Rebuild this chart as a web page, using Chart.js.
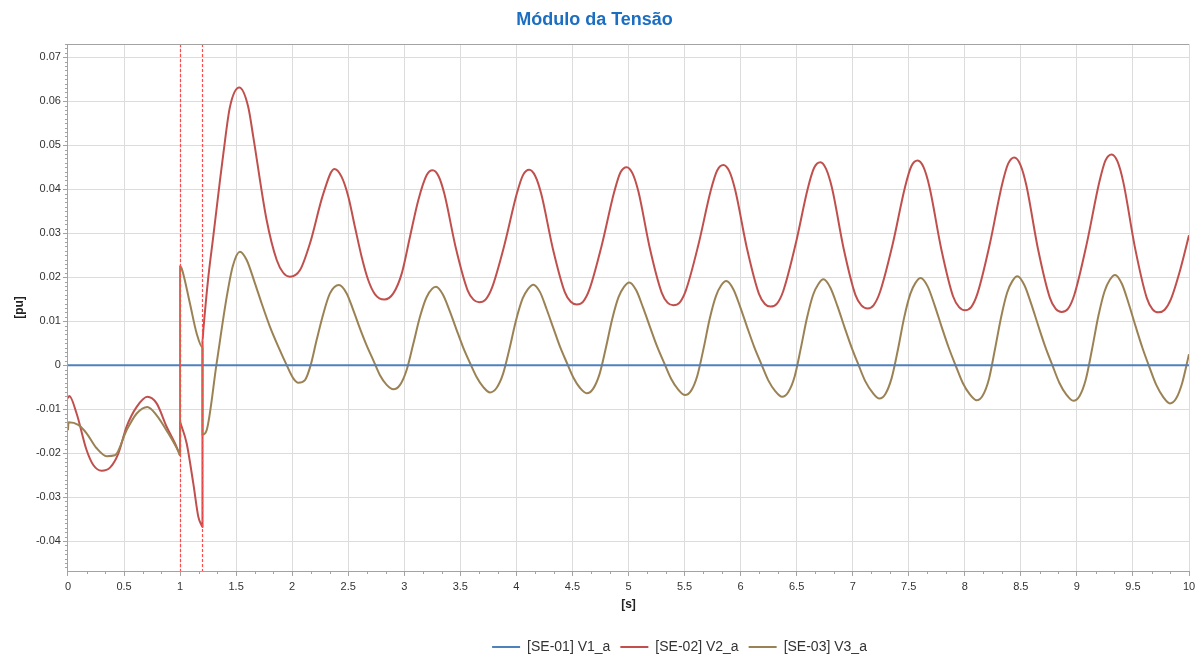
<!DOCTYPE html>
<html>
<head>
<meta charset="utf-8">
<script src="https://cdn.jsdelivr.net/npm/chart.js@4/dist/chart.umd.min.js"></script>
<style>
html,body{margin:0;padding:0;background:#fff;}
#wrap{width:1202px;height:658px;}
</style>
</head>
<body>
<div id="wrap"><canvas id="c" width="1202" height="658"></canvas></div>
<script>
// ---------- DATA ----------
const chartTitle = 'Módulo da Tensão';
const xTitle = '[s]';
const yTitle = '[pu]';
const seriesNames = ['[SE-01] V1_a', '[SE-02] V2_a', '[SE-03] V3_a'];
const faultTimes = [1.0, 1.2];

// [time (s), value (pu)]
const v1Series = [[0, 0], [10, 0]];

const v2Series = [
  [0,-0.0075],[0.012,-0.0070],[0.077,-0.0110],[0.166,-0.0193],[0.226,-0.0227],[0.30,-0.0240],[0.375,-0.0233],
  [0.449,-0.0201],[0.523,-0.0140],[0.613,-0.0095],[0.708,-0.0072],[0.791,-0.0087],[0.880,-0.0140],[0.955,-0.0178],[0.99,-0.0199],[1.0,-0.0205],
  [1.0,-0.0129],[1.008,-0.0135],[1.059,-0.0178],[1.118,-0.0269],[1.163,-0.0345],[1.192,-0.0364],[1.2,-0.0368],
  [1.2,0.0055],[1.207,0.0078],[1.252,0.0200],[1.296,0.0292],[1.356,0.0420],[1.386,0.0481],[1.445,0.0587],[1.528,0.0631],
  [1.608,0.0587],[1.653,0.0519],[1.772,0.0330],[1.862,0.0239],[1.92,0.0210],[1.98,0.0201],[2.07,0.0216],
  [2.159,0.0277],[2.278,0.0390],[2.376,0.0446],
  [2.441,0.0428],[2.501,0.0383],[2.560,0.0314],[2.620,0.0246],[2.679,0.0193],[2.739,0.0161],[2.822,0.0149],
  [2.902,0.0163],[2.977,0.0208],[3.051,0.0292],[3.125,0.0375],[3.2,0.0432],[3.253,0.0443],
  [3.305,0.0430],[3.357,0.0390],[3.461,0.0265],[3.565,0.0170],[3.617,0.0149],[3.669,0.0143],
  [3.725,0.0149],[3.781,0.0175],[3.892,0.0272],[4.004,0.0390],[4.059,0.0432],[4.115,0.0444],
  [4.168,0.0430],[4.221,0.0390],[4.327,0.0263],[4.432,0.0166],[4.485,0.0144],[4.538,0.0138],
  [4.594,0.0144],[4.650,0.0171],[4.761,0.0272],[4.873,0.0394],[4.928,0.0438],[4.984,0.0450],
  [5.036,0.0436],[5.088,0.0395],[5.192,0.0264],[5.296,0.0165],[5.348,0.0142],[5.400,0.0136],
  [5.456,0.0142],[5.512,0.0170],[5.623,0.0273],[5.735,0.0398],[5.790,0.0442],[5.846,0.0455],
  [5.899,0.0441],[5.952,0.0398],[6.058,0.0264],[6.164,0.0162],[6.217,0.0139],[6.267,0.0133],
  [6.325,0.0140],[6.38,0.0168],[6.49,0.0274],[6.60,0.0402],[6.655,0.0448],[6.712,0.0461],
  [6.7625,0.0446],[6.815,0.0403],[6.92,0.0264],[7.025,0.0159],[7.0775,0.0136],[7.134,0.0129],
  [7.186,0.0136],[7.242,0.0165],[7.355,0.0273],[7.467,0.0405],[7.523,0.0452],[7.579,0.0465],
  [7.632,0.0450],[7.685,0.0405],[7.791,0.0263],[7.896,0.0156],[7.949,0.0132],[8.002,0.0125],
  [8.057,0.0132],[8.112,0.0162],[8.222,0.0274],[8.332,0.0410],[8.387,0.0458],[8.442,0.0472],
  [8.495,0.0456],[8.548,0.0410],[8.653,0.0264],[8.759,0.0153],[8.811,0.0128],[8.864,0.0121],
  [8.92,0.0128],[8.976,0.0159],[9.087,0.0275],[9.199,0.0415],[9.254,0.0465],[9.310,0.0479],
  [9.362,0.0463],[9.414,0.0416],[9.519,0.0266],[9.623,0.0153],[9.675,0.0127],[9.727,0.0120],
  [9.783,0.0126],[9.839,0.0150],[9.92,0.0215],[10.0,0.0295]
];

const v3Series = [
  [0,-0.0148],[0.005,-0.0130],[0.092,-0.0136],[0.166,-0.0155],[0.256,-0.0189],[0.345,-0.0207],[0.419,-0.0205],
  [0.523,-0.0148],[0.613,-0.0110],[0.708,-0.0095],[0.791,-0.0114],[0.895,-0.0155],[0.985,-0.0196],[1.0,-0.0205],
  [1.0,0.0225],[1.014,0.0220],[1.088,0.0140],[1.148,0.0072],[1.2,0.0040],
  [1.2,-0.0158],[1.237,-0.0148],[1.326,0.0004],[1.416,0.0155],[1.47,0.0225],[1.534,0.0258],
  [1.594,0.0239],[1.668,0.0186],[1.728,0.0140],[1.802,0.0087],[1.876,0.0042],[1.951,0.0],[2.010,-0.0030],
  [2.055,-0.0040],[2.114,-0.0034],[2.165,0.0],[2.218,0.0057],[2.278,0.0117],[2.337,0.0163],[2.417,0.0182],
  [2.486,0.0163],[2.545,0.0125],[2.605,0.0083],[2.664,0.0045],[2.724,0.0011],[2.783,-0.0023],[2.843,-0.0045],
  [2.902,-0.0055],[2.962,-0.0045],[3.021,-0.0011],[3.081,0.0049],[3.140,0.0110],[3.2,0.0155],[3.283,0.0178],
  [3.343,0.0161],[3.404,0.0124],[3.464,0.0082],[3.524,0.0041],[3.584,0.0006],[3.645,-0.0027],[3.705,-0.0050],[3.765,-0.0062],
  [3.823,-0.0052],[3.881,-0.0020],[3.939,0.0038],[3.997,0.0102],[4.055,0.0151],[4.103,0.0173],[4.151,0.0183],
  [4.211,0.0166],[4.270,0.0127],[4.330,0.0084],[4.389,0.0042],[4.449,0.0006],[4.508,-0.0028],[4.568,-0.0052],[4.627,-0.0064],
  [4.684,-0.0054],[4.741,-0.0021],[4.798,0.0039],[4.855,0.0105],[4.912,0.0155],[4.960,0.0178],[5.007,0.0188],
  [5.069,0.0170],[5.131,0.0130],[5.193,0.0086],[5.256,0.0042],[5.318,0.0005],[5.380,-0.0031],[5.442,-0.0055],[5.504,-0.0068],
  [5.559,-0.0058],[5.614,-0.0024],[5.670,0.0038],[5.725,0.0106],[5.780,0.0157],[5.826,0.0181],[5.872,0.0191],
  [5.934,0.0173],[5.997,0.0132],[6.059,0.0086],[6.122,0.0041],[6.184,0.0003],[6.246,-0.0034],[6.309,-0.0059],[6.371,-0.0072],
  [6.426,-0.0061],[6.481,-0.0027],[6.537,0.0038],[6.592,0.0107],[6.647,0.0160],[6.693,0.0184],[6.739,0.0195],
  [6.801,0.0176],[6.864,0.0134],[6.926,0.0087],[6.989,0.0041],[7.051,0.0001],[7.113,-0.0037],[7.176,-0.0062],[7.238,-0.0076],
  [7.293,-0.0065],[7.348,-0.0029],[7.404,0.0036],[7.459,0.0108],[7.514,0.0162],[7.560,0.0187],[7.606,0.0198],
  [7.6685,0.0179],[7.731,0.0136],[7.7935,0.0087],[7.856,0.0040],[7.9185,-0.0001],[7.981,-0.0040],[8.0435,-0.0066],[8.106,-0.0080],
  [8.160,-0.0069],[8.215,-0.0032],[8.269,0.0036],[8.324,0.0109],[8.378,0.0165],[8.424,0.0191],[8.469,0.0202],
  [8.531,0.0182],[8.594,0.0138],[8.656,0.0089],[8.719,0.0041],[8.781,0.0000],[8.843,-0.0040],[8.906,-0.0067],[8.968,-0.0081],
  [9.024,-0.0070],[9.080,-0.0032],[9.135,0.0036],[9.191,0.0111],[9.247,0.0168],[9.294,0.0194],[9.340,0.0205],
  [9.401,0.0185],[9.463,0.0139],[9.524,0.0088],[9.585,0.0039],[9.646,-0.0004],[9.708,-0.0045],[9.769,-0.0072],[9.830,-0.0087],
  [9.885,-0.0076],[9.94,-0.0040],[10.0,0.0025]
];

// ---------- STYLE ----------
const FONT = '"Liberation Sans", Arial, sans-serif';
const AXIS_COLOR = '#a3a3a3';
const GRID_COLOR = '#dcdcdc';
const colors = ['#4f81bd', '#c0504d', '#9b8254'];

Chart.defaults.font.family = FONT;

const toPoints = s => s.map(p => ({x: p[0], y: p[1]}));
const fmt = v => String(Number(v.toFixed(4)));

const decorations = {
  id: 'decorations',
  afterLayout(chart) {
    const lg = chart.legend;
    if (lg && !lg._shifted) {
      lg.left += 85; lg.right += 85; lg.top += 6; lg.bottom += 6; lg._shifted = true;
    }
  },
  afterDatasetsDraw(chart) {
    const {ctx, chartArea: a, scales: {x}} = chart;
    ctx.save();
    ctx.strokeStyle = '#ff4b4b';
    ctx.lineWidth = 1.2;
    ctx.setLineDash([3, 2]);
    faultTimes.forEach(t => {
      const px = Math.round(x.getPixelForValue(t)) + 0.5;
      ctx.beginPath(); ctx.moveTo(px, a.top); ctx.lineTo(px, a.bottom); ctx.stroke();
    });
    ctx.restore();
  },
  afterDraw(chart) {
    const {ctx, chartArea: a, scales: {x, y}} = chart;
    ctx.save();
    ctx.strokeStyle = AXIS_COLOR;
    ctx.lineWidth = 1;
    ctx.beginPath();
    const ty = Math.round(a.top) + 0.5;
    ctx.moveTo(a.left, ty); ctx.lineTo(a.right, ty);
    const xMinor = 0.5 / 3;
    for (let i = 0; ; i++) {
      const v = x.min + i * xMinor;
      if (v > x.max + 1e-9) break;
      if (i % 3 === 0) continue;
      const px = Math.round(x.getPixelForValue(v)) + 0.5;
      ctx.moveTo(px, a.bottom); ctx.lineTo(px, a.bottom + 3);
    }
    for (let k = Math.ceil(y.min * 1000); k <= Math.floor(y.max * 1000); k++) {
      if (k % 10 === 0) continue;
      const py = Math.round(y.getPixelForValue(k / 1000)) + 0.5;
      ctx.moveTo(a.left - 3, py); ctx.lineTo(a.left, py);
    }
    ctx.stroke();
    ctx.restore();
  }
};

new Chart(document.getElementById('c'), {
  type: 'line',
  data: {
    datasets: [
      {label: seriesNames[0], data: toPoints(v1Series), borderColor: colors[0], backgroundColor: colors[0], order: 0},
      {label: seriesNames[1], data: toPoints(v2Series), borderColor: colors[1], backgroundColor: colors[1], order: 2},
      {label: seriesNames[2], data: toPoints(v3Series), borderColor: colors[2], backgroundColor: colors[2], order: 1}
    ].map(d => Object.assign(d, {
      borderWidth: 2, pointRadius: 0, pointHoverRadius: 0, fill: false,
      cubicInterpolationMode: 'monotone', borderJoinStyle: 'round'
    }))
  },
  options: {
    responsive: false,
    animation: false,
    events: [],
    layout: {padding: {left: 0, right: 13, top: 0, bottom: 0}},
    plugins: {
      title: {
        display: true, text: chartTitle, color: '#1b6ec2',
        font: {family: FONT, size: 18, weight: 'bold'},
        padding: {top: 9, bottom: 13.4}
      },
      legend: {
        position: 'bottom',
        labels: {
          usePointStyle: true, pointStyle: 'line', pointStyleWidth: 28,
          color: '#333', font: {family: FONT, size: 14}, padding: 10,
          sort: (a, b) => a.datasetIndex - b.datasetIndex
        }
      },
      tooltip: {enabled: false}
    },
    scales: {
      x: {
        type: 'linear', min: 0, max: 10,
        ticks: {stepSize: 0.5, color: '#333', font: {family: FONT, size: 11}, padding: 4,
                maxRotation: 0, autoSkip: false, includeBounds: false, callback: v => fmt(v)},
        grid: {color: GRID_COLOR, tickColor: AXIS_COLOR, tickLength: 5, lineWidth: 1},
        border: {color: AXIS_COLOR, width: 1},
        title: {display: true, text: xTitle, color: '#222', font: {family: FONT, size: 12, weight: 'bold'},
                padding: {top: 0, bottom: 12.4}}
      },
      y: {
        type: 'linear', min: -0.0468, max: 0.073,
        ticks: {stepSize: 0.01, color: '#333', font: {family: FONT, size: 11}, padding: 2,
                autoSkip: false, includeBounds: false, callback: v => fmt(v)},
        grid: {color: GRID_COLOR, tickColor: AXIS_COLOR, tickLength: 5, lineWidth: 1},
        border: {color: AXIS_COLOR, width: 1},
        title: {display: true, text: yTitle, color: '#222', font: {family: FONT, size: 12, weight: 'bold'},
                padding: {top: 12.8, bottom: 6.7}}
      }
    }
  },
  plugins: [decorations]
});
</script>
</body>
</html>
